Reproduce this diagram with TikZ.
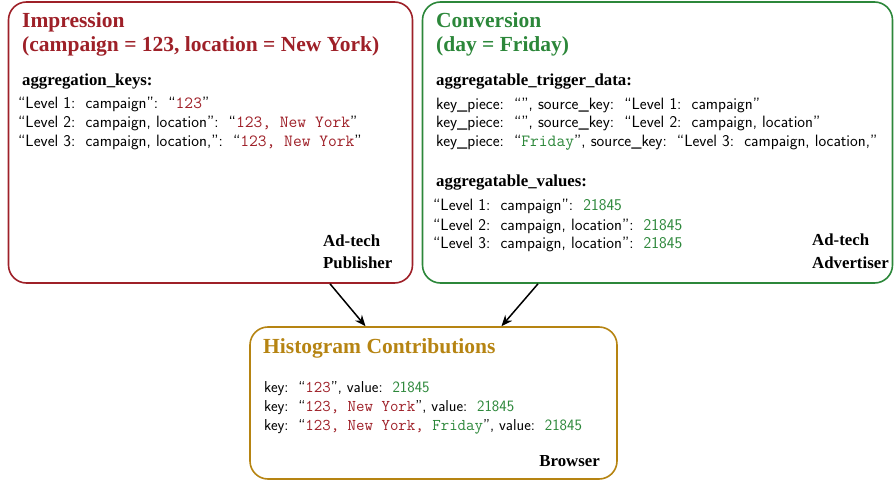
\documentclass[tikz,border=0pt]{standalone}
\usepackage{fontspec}
\setmainfont{Liberation Serif}
\setmonofont[Scale=1.04]{Latin Modern Mono}
\usetikzlibrary{arrows.meta}
\definecolor{impred}{RGB}{158,32,40}
\definecolor{convgreen}{RGB}{44,135,58}
\definecolor{histgold}{RGB}{182,132,18}
\newcommand{\rd}[1]{{\color{impred}\ttfamily #1}}
\newcommand{\gr}[1]{{\color{convgreen}#1}}
\newcommand{\grt}[1]{{\color{convgreen}\ttfamily #1}}
\newcommand{\cl}{:\hspace{0.62em}}
\begin{document}
\begin{tikzpicture}[x=1pt,y=-1pt,
  box/.style={draw,line width=1.6pt,rounded corners=18pt,inner sep=0pt},
  ttl/.style={anchor=base west,inner sep=0pt,font=\fontsize{21.5}{24}\selectfont\bfseries},
  sub/.style={anchor=base west,inner sep=0pt,font=\fontsize{16.8}{19}\selectfont\bfseries},
  body/.style={anchor=base west,inner sep=0pt,font=\fontsize{16.4}{19}\selectfont\sffamily},
  hbody/.style={anchor=base west,inner sep=0pt,font=\fontsize{15.8}{19}\selectfont\sffamily},
  arr/.style={-{Stealth[length=11pt,width=9pt]},line width=1.5pt}]
\useasboundingbox (0,0) rectangle (894,481);
% boxes
\node[box,draw=impred,minimum width=404pt,minimum height=281pt] (imp) at (210.5,142.5) {};
\node[box,draw=convgreen,minimum width=470pt,minimum height=281pt] (conv) at (657.5,142.5) {};
\node[box,draw=histgold,minimum width=367pt,minimum height=152pt] (hist) at (433.5,403) {};
% Impression
\node[ttl,text=impred] (t1a) at (22,28) {Impression};
\node[ttl,text=impred] (t1b) at (22,52) {(campaign = 123, location = New York)};
\node[sub] (k1) at (22,86) {aggregation\_keys:};
\node[body] (i1) at (18,109) {“Level 1\cl campaign”\cl “\rd{123}”};
\node[body] (i2) at (18,128) {“Level 2\cl campaign, location”\cl “\rd{123, New York}”};
\node[body] (i3) at (18,147) {“Level 3\cl campaign, location,”\cl “\rd{123, New York}”};
\node[sub] (p1) at (323,246) {Ad-tech};
\node[sub] (p2) at (323,268) {Publisher};
% Conversion
\node[ttl,text=convgreen] (t2a) at (436,28) {Conversion};
\node[ttl,text=convgreen] (t2b) at (436,52) {(day = Friday)};
\node[sub] (k2) at (436,86) {aggregatable\_trigger\_data:};
\node[body] (c1) at (436,110) {key\_piece\cl “”, source\_key\cl “Level 1\cl campaign”};
\node[body] (c2) at (436,128) {key\_piece\cl “”, source\_key\cl “Level 2\cl campaign, location”};
\node[body] (c3) at (436,147) {key\_piece\cl “\grt{Friday}”, source\_key\cl “Level 3\cl campaign, location,”};
\node[sub] (k3) at (436,187) {aggregatable\_values:};
\node[body] (v1) at (433,211) {“Level 1\cl campaign”\cl \gr{21845}};
\node[body] (v2) at (433,230) {“Level 2\cl campaign, location”\cl \gr{21845}};
\node[body] (v3) at (433,248) {“Level 3\cl campaign, location”\cl \gr{21845}};
\node[sub] (a1) at (812,245) {Ad-tech};
\node[sub] (a2) at (812,268) {Advertiser};
% Histogram
\node[ttl,text=histgold] (t3) at (263,353) {Histogram Contributions};
\node[hbody] (h1) at (264,392) {key\cl “\rd{123}”, value\cl \gr{21845}};
\node[hbody] (h2) at (264,411) {key\cl “\rd{123, New York}”, value\cl \gr{21845}};
\node[hbody] (h3) at (264,430) {key\cl “\rd{123, New York, }\grt{Friday}”, value\cl \gr{21845}};
\node[sub,anchor=base east] (b1) at (600,466) {Browser};
% arrows
\draw[arr] ([xshift=119.5pt]imp.south) -- ([xshift=-68pt]hist.north);
\draw[arr] ([xshift=-119.5pt]conv.south) -- ([xshift=68pt]hist.north);
\end{tikzpicture}
\end{document}
